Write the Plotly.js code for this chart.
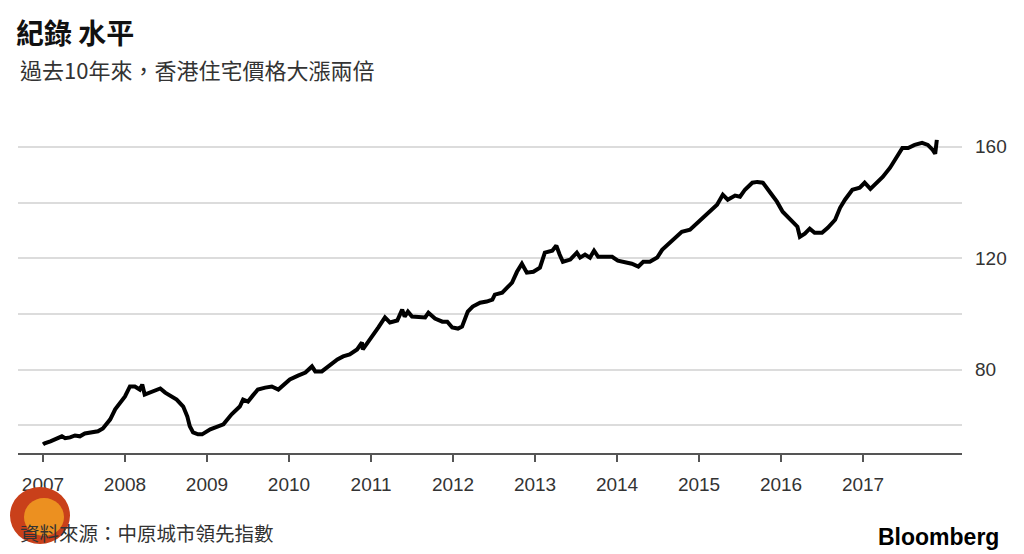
<!DOCTYPE html>
<html>
<head>
<meta charset="utf-8">
<script src="https://cdn.plot.ly/plotly-3.0.1.min.js"></script>
<style>
  html, body { margin: 0; padding: 0; background: #ffffff; }
  #chart { width: 1024px; height: 554px; }
</style>
</head>
<body>
<div id="chart"></div>
<script>
// Centa-City Leading Index, x in decimal years
const years = [
  2007.00, 2007.02, 2007.09, 2007.17, 2007.23, 2007.27, 2007.33, 2007.39, 2007.45, 2007.51,
  2007.60, 2007.67, 2007.73, 2007.82, 2007.88, 2007.94, 2008.00, 2008.06, 2008.12, 2008.18,
  2008.21, 2008.24, 2008.30, 2008.37, 2008.43, 2008.49, 2008.55, 2008.63, 2008.71, 2008.76,
  2008.79, 2008.83, 2008.89, 2008.94, 2009.04, 2009.13, 2009.20, 2009.30, 2009.40, 2009.44,
  2009.50, 2009.56, 2009.62, 2009.71, 2009.79, 2009.87, 2009.93, 2010.01, 2010.11, 2010.20,
  2010.28, 2010.32, 2010.40, 2010.50, 2010.59, 2010.66, 2010.74, 2010.83, 2010.89, 2010.90,
  2010.96, 2011.02, 2011.09, 2011.17, 2011.23, 2011.32, 2011.38, 2011.41, 2011.45, 2011.50,
  2011.60, 2011.66, 2011.70, 2011.78, 2011.87, 2011.93, 2011.99, 2012.06, 2012.11, 2012.18,
  2012.24, 2012.33, 2012.41, 2012.48, 2012.51, 2012.60, 2012.66, 2012.72, 2012.78, 2012.84,
  2012.90, 2012.98, 2013.06, 2013.12, 2013.21, 2013.26, 2013.30, 2013.34, 2013.43, 2013.51,
  2013.55, 2013.61, 2013.67, 2013.72, 2013.77, 2013.85, 2013.94, 2014.01, 2014.10, 2014.18,
  2014.26, 2014.32, 2014.40, 2014.49, 2014.55, 2014.62, 2014.71, 2014.79, 2014.89, 2014.98,
  2015.05, 2015.13, 2015.22, 2015.29, 2015.35, 2015.44, 2015.50, 2015.56, 2015.65, 2015.71,
  2015.78, 2015.87, 2015.95, 2016.02, 2016.11, 2016.20, 2016.23, 2016.29, 2016.35, 2016.41,
  2016.50, 2016.57, 2016.66, 2016.72, 2016.78, 2016.87, 2016.96, 2017.02, 2017.09, 2017.17,
  2017.24, 2017.33, 2017.41, 2017.48, 2017.55, 2017.63, 2017.72, 2017.79, 2017.85, 2017.88,
  2017.90
];
const indexValues = [
  53.1, 53.5, 54.2, 55.3, 56.0, 55.3, 55.6, 56.3, 56.0, 57.0,
  57.4, 57.8, 58.8, 62.1, 65.7, 68.2, 70.3, 73.9, 73.9, 72.8,
  74.6, 71.0, 71.7, 72.8, 73.2, 71.7, 70.7, 69.2, 66.7, 63.1,
  59.6, 57.4, 56.7, 56.7, 58.5, 59.6, 60.3, 63.9, 66.7, 69.2,
  68.5, 70.7, 72.8, 73.5, 73.9, 72.8, 74.3, 76.4, 77.8, 78.9,
  81.1, 79.3, 79.3, 81.8, 83.6, 84.7, 85.4, 87.2, 89.7, 87.2,
  89.7, 91.8, 95.1, 98.7, 96.9, 97.6, 101.5, 99.0, 100.8, 99.0,
  99.0, 98.7, 100.4, 98.3, 97.2, 97.2, 95.1, 94.7, 95.4, 100.8,
  102.6, 104.0, 104.4, 105.1, 106.9, 107.6, 109.4, 111.2, 115.1, 118.0,
  114.8, 115.1, 116.6, 122.0, 122.7, 124.5, 121.3, 118.7, 119.5, 122.0,
  120.2, 121.3, 120.2, 122.7, 120.5, 120.5, 120.5, 119.1, 118.4, 118.0,
  117.0, 118.7, 118.7, 120.2, 123.0, 124.8, 127.4, 129.5, 130.2, 132.7,
  134.2, 136.7, 139.2, 142.8, 141.0, 142.5, 142.1, 144.6, 147.1, 147.4,
  147.1, 143.5, 140.3, 136.7, 133.8, 131.3, 127.7, 128.8, 130.6, 129.1,
  129.1, 130.9, 133.8, 138.1, 141.0, 144.6, 145.3, 147.1, 144.9, 147.1,
  149.2, 152.5, 156.4, 159.6, 159.6, 160.7, 161.4, 160.7, 158.9, 157.5,
  162.5
];

const xTickVals = [2007, 2008, 2009, 2010, 2011, 2012, 2013, 2014, 2015, 2016, 2017];
const xTickText = ['2007', '2008', '2009', '2010', '2011', '2012', '2013', '2014', '2015', '2016', '2017'];
const yTickVals = [60, 80, 100, 120, 140, 160];
const yTickText = ['', '80', '', '120', '', '160'];

const titleText = '紀錄 水平';
const subtitleText = '過去10年來，香港住宅價格大漲兩倍';
const sourceText = '資料來源：中原城市領先指數';
const brandText = 'Bloomberg';

const FONT = '"Liberation Sans", Arial, "Noto Sans CJK TC", sans-serif';
const CJK = '"Noto Sans CJK TC", "Liberation Sans", sans-serif';

const trace = {
  x: years,
  y: indexValues,
  type: 'scatter',
  mode: 'lines',
  line: { color: '#000000', width: 4 },
  hoverinfo: 'x+y'
};

const layout = {
  width: 1024,
  height: 554,
  paper_bgcolor: '#ffffff',
  plot_bgcolor: '#ffffff',
  showlegend: false,
  margin: { l: 18, r: 62, t: 119, b: 101 },
  title: {
    text: '<b>' + titleText + '</b>',
    x: 16 / 1024, xanchor: 'left', xref: 'container',
    y: 1 - 34 / 554, yanchor: 'middle', yref: 'container',
    font: { family: CJK, size: 28, color: '#111111' }
  },
  xaxis: {
    range: [2006.695, 2018.207],
    tickmode: 'array',
    tickvals: xTickVals,
    ticktext: xTickText,
    showgrid: false,
    zeroline: false,
    showline: true,
    linecolor: '#555555',
    linewidth: 2,
    ticks: 'outside',
    ticklen: 7,
    tickwidth: 1.5,
    tickcolor: '#555555',
    ticklabelstandoff: 6,
    tickfont: { family: FONT, size: 19, color: '#333333' },
    fixedrange: true
  },
  yaxis: {
    range: [50, 170],
    side: 'right',
    tickmode: 'array',
    tickvals: yTickVals,
    ticktext: yTickText,
    showgrid: true,
    gridcolor: '#dcdcdc',
    gridwidth: 2,
    zeroline: false,
    showline: false,
    ticks: '',
    ticklabelstandoff: 12,
    tickfont: { family: FONT, size: 19, color: '#333333' },
    fixedrange: true
  },
  shapes: [
    { type: 'circle', xref: 'paper', yref: 'paper',
      x0: (10 - 18) / 944, x1: (70 - 18) / 944,
      y0: (453 - 544) / 334, y1: (453 - 487) / 334,
      fillcolor: '#c9401a', line: { width: 0 }, layer: 'above' },
    { type: 'circle', xref: 'paper', yref: 'paper',
      x0: (24 - 18) / 944, x1: (64 - 18) / 944,
      y0: (453 - 536) / 334, y1: (453 - 498) / 334,
      fillcolor: '#ec9020', line: { width: 0 }, layer: 'above' }
  ],
  annotations: [
    { text: subtitleText, xref: 'paper', yref: 'paper',
      x: 0, xanchor: 'left', y: (453 - 69) / 334, yanchor: 'middle',
      showarrow: false, font: { family: CJK, size: 22, color: '#333333' } },
    { text: sourceText, xref: 'paper', yref: 'paper',
      x: 0, xanchor: 'left', y: (453 - 532) / 334, yanchor: 'middle',
      showarrow: false, font: { family: CJK, size: 19.5, color: '#333333' } },
    { text: '<b>' + brandText + '</b>', xref: 'paper', yref: 'paper',
      x: (1001 - 18) / 944, xanchor: 'right', y: (453 - 537) / 334, yanchor: 'middle',
      showarrow: false, font: { family: FONT, size: 23, color: '#000000' } }
  ]
};

Plotly.newPlot('chart', [trace], layout, { displayModeBar: false, staticPlot: true });
</script>
</body>
</html>
